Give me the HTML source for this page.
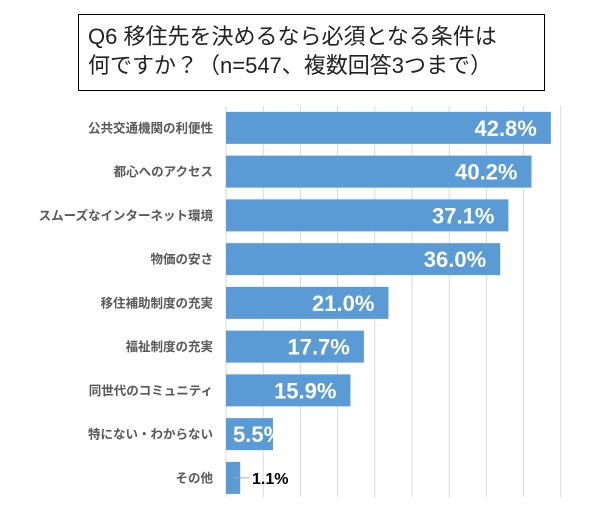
<!DOCTYPE html>
<html><head><meta charset="utf-8"><style>
body{margin:0;background:#fff;font-family:"Liberation Sans","Noto Sans CJK JP",sans-serif;}
#wrap{position:relative;width:602px;height:515px;overflow:hidden;}
#title{position:absolute;left:78px;top:14px;width:467px;height:77px;border:1.5px solid #000;box-sizing:border-box;font-size:22px;line-height:29px;padding:7px 0 0 9px;color:#222;white-space:nowrap;}
</style></head><body>
<div id="wrap">
<div id="title">Q6 移住先を決めるなら必須となる条件は<br>何ですか？（n=547、複数回答3つまで）</div>
<svg id="svg" width="602" height="515" style="position:absolute;left:0;top:0"></svg>
</div>
<script>
const categories=["公共交通機関の利便性","都心へのアクセス","スムーズなインターネット環境","物価の安さ","移住補助制度の充実","福祉制度の充実","同世代のコミュニティ","特にない・わからない","その他"];
const values=[42.8,40.2,37.1,36.0,21.0,17.7,15.9,5.5,1.1];
const valueLabels=["42.8%","40.2%","37.1%","36.0%","21.0%","17.7%","15.9%","5.5%","1.1%"];
const gridCount=10;
const svg=document.getElementById('svg');
const NS='http://www.w3.org/2000/svg';
const x0=232,pxPer=7.45;
function x(v){return x0+v*pxPer;}
const top0=106,rowH=43.75,barH=32;
function y(i){return top0+i*rowH+(rowH-barH)/2;}
function mk(t,a){const e=document.createElementNS(NS,t);for(const k in a)e.setAttribute(k,a[k]);svg.appendChild(e);return e;}
for(let i=0;i<gridCount;i++){
 const gx=226+i*37.2;
 const g=mk('line',{x1:gx,x2:gx,y1:top0,y2:497,stroke:'#d9d9d9','stroke-width':1});
 
 
}
categories.forEach((c,i)=>{
 const by=y(i);
 const r=mk('rect',{x:226,y:by,width:Math.max(0,x(values[i])-226),height:barH,fill:'#5b9bd5'});
 
 
 const t=mk('text',{x:213,y:by+barH/2+4.5,'text-anchor':'end','font-size':12.5,'font-weight':'bold',fill:'#595959'});
 t.textContent=c;
 
 
 const xe=x(values[i]);
 let vl;
 if(values[i]<3){
  const ln=mk('line',{x1:234,x2:249,y1:by+barH/2,y2:by+barH/2,stroke:'#a6a6a6','stroke-width':1});
  
  
  vl=mk('text',{x:252,y:by+barH/2+6,'font-size':16,'font-weight':'bold',fill:'#000'});
 }else{
  vl=mk('text',{x:values[i]<8?233:xe-14,y:by+barH/2+8,'text-anchor':values[i]<8?'start':'end','font-size':22,'font-weight':'bold',fill:'#fff'});
 }
 vl.textContent=valueLabels[i];
 
 
});
</script>
</body></html>
